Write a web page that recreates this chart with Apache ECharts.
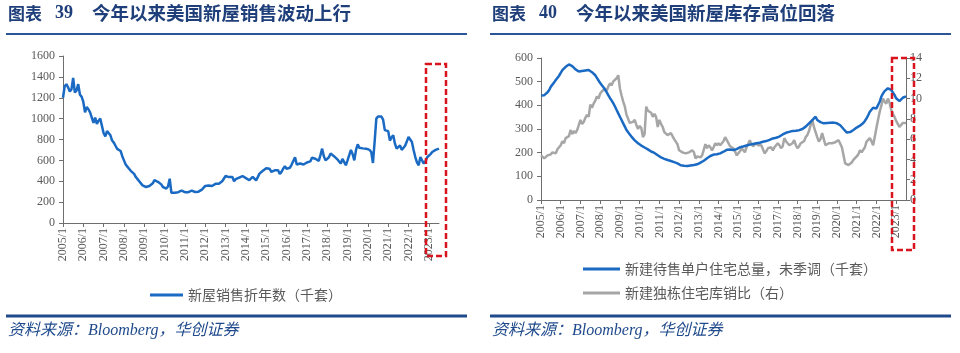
<!DOCTYPE html>
<html>
<head>
<meta charset="utf-8">
<script src="https://cdn.jsdelivr.net/npm/echarts@6/dist/echarts.min.js"></script>
<style>
  html, body { margin: 0; padding: 0; background: #fff; }
  #chart { width: 960px; height: 353px; }
</style>
</head>
<body>
<div id="chart"></div>
<script>
// 月度类目 2005/1 - 2023/7
const months = []
for (let y = 2005; y <= 2023; y++) {
  for (let m = 1; m <= 12; m++) {
    if (y === 2023 && m > 7) break
    months.push(y + '/' + m)
  }
}

// 图表39：新屋销售折年数（千套）
const newHomeSales = [
  1200, 1310, 1330, 1300, 1260, 1280, 1390, 1250, 1270, 1330, 1230, 1210,
  1160, 1060, 1110, 1090, 1060, 1050, 960, 1010, 950, 980, 1000, 990,
  860, 830, 880, 890, 840, 790, 770, 740, 710, 720, 690, 640,
  600, 560, 540, 520, 500, 490, 470, 440, 420, 400, 380, 360,
  350, 345, 350, 355, 365, 380, 410, 405, 395, 390, 370, 345,
  335, 330, 350, 425, 290, 285, 290, 300, 295, 300, 310, 320,
  295, 280, 295, 305, 310, 300, 297, 305, 300, 310, 320, 330,
  355, 350, 360, 360, 355, 365, 375, 380, 375, 370, 400, 410,
  450, 445, 440, 445, 440, 400, 420, 425, 435, 445, 450, 448,
  430, 420, 410, 425, 441, 430, 409, 440, 473, 480, 500, 510,
  525, 540, 520, 490, 500, 505, 500, 505, 470, 490, 520, 545,
  520, 525, 530, 560, 570, 630, 560, 575, 570, 563, 560, 565,
  580, 575, 590, 625, 610, 615, 605, 595, 650, 712, 640, 600,
  595, 630, 665, 650, 640, 632, 610, 590, 570, 615, 600, 553,
  600, 650, 700, 660, 600, 700, 754, 720, 710, 715, 712, 712,
  712, 700, 680, 575, 780, 1000, 1020, 1015, 1020, 990, 890, 880,
  880, 790, 820, 840, 760, 712, 730, 744, 700, 696, 740, 780,
  824, 800, 776, 700, 632, 580, 553, 632, 600, 569, 590, 630,
  649, 660, 680, 696, 700, 705, 712
]

// 图表40：新建待售单户住宅总量，未季调（千套）
const homesForSale = [
  441, 440, 443, 447, 455, 465, 479, 488, 497, 507, 515, 525,
  537, 549, 556, 563, 570, 573, 573, 566, 559, 552, 545, 543,
  544, 545, 546, 547, 548, 549, 546, 540, 534, 527, 516, 505,
  494, 485, 476, 466, 455, 442, 430, 420, 408, 395, 380, 366,
  352, 338, 324, 310, 296, 286, 277, 268, 260, 252, 246, 240,
  234, 230, 226, 222, 218, 214, 210, 205, 201, 199, 194, 189,
  185, 180, 177, 174, 171, 169, 167, 165, 163, 160, 158, 155,
  150, 147, 146, 145, 144, 144, 145, 146, 147, 148, 149, 151,
  155, 158, 162, 166, 171, 176, 181, 186, 190, 192, 193, 193,
  194, 197, 200, 204, 208, 212, 215, 213, 211, 211, 212, 215,
  220, 223, 225, 226, 228, 230, 232, 234, 236, 237, 238, 240,
  241, 242, 244, 246, 248, 249, 251, 254, 257, 260, 262, 263,
  265, 268, 272, 277, 281, 284, 286, 288, 290, 292, 292, 293,
  294, 295, 296, 300, 305, 310, 317, 324, 331, 338, 345, 352,
  338, 333, 329, 326, 324, 324, 325, 324, 326, 328, 327, 326,
  324, 322, 316, 310, 300, 292, 285, 284, 287, 290, 296, 302,
  306, 310, 314, 317, 325, 334, 345, 358, 373, 381, 390, 390,
  387, 395, 415, 437, 450, 460, 468, 472, 472, 465, 458, 444,
  430, 425, 418, 425, 432, 435, 438
]

// 图表40：新建独栋住宅库销比（右轴）
const monthsSupply = [
  4.4, 4.3, 4.1, 4.2, 4.4, 4.3, 4.5, 4.7, 4.8, 4.6, 5.0, 5.2,
  5.4, 5.8, 5.6, 6.1, 6.0, 6.3, 6.9, 6.5, 6.8, 6.6, 6.9, 6.8,
  7.9, 7.5, 7.7, 8.1, 8.4, 8.2, 9.4, 9.1, 9.5, 9.8, 10.2, 10.0,
  10.5, 10.7, 10.6, 11.0, 10.8, 11.2, 11.5, 11.3, 11.7, 11.6, 12.0, 12.3,
  11.0, 10.3, 9.7, 9.2, 8.4, 8.0, 7.6, 7.5, 7.7, 7.9, 7.4, 7.0,
  7.3, 7.1, 6.2, 6.5, 9.2, 8.8, 8.9, 8.6, 8.2, 8.5, 8.2, 7.2,
  7.9, 7.5, 7.2, 6.7, 6.6, 6.4, 6.5, 6.6, 6.3, 6.0, 5.75, 5.5,
  4.9, 4.8, 4.7, 4.6, 4.6, 4.7, 4.7, 4.8, 4.9, 4.7, 4.1, 4.3,
  4.3, 4.2, 4.4, 4.5, 5.5, 5.1, 5.4, 5.2, 4.9, 5.2, 5.6, 5.4,
  5.6, 5.4, 5.5, 5.8, 6.2, 5.9, 5.6, 5.3, 5.2, 5.1, 4.8, 4.4,
  4.5, 4.8, 5.1, 4.9, 4.7, 5.2, 5.5, 5.9, 5.5, 5.3, 5.4, 5.6,
  5.4, 5.5, 5.4, 5.0, 4.6, 4.8, 5.1, 5.0, 5.2, 4.9, 5.2, 5.4,
  5.6, 5.4, 5.1, 5.3, 6.1, 5.8, 5.6, 5.4, 5.3, 5.6, 5.9, 5.4,
  5.1, 5.3, 5.6, 5.5, 5.8, 6.2, 6.4, 6.8, 7.4, 7.9, 7.2, 6.7,
  6.2, 5.75, 6.0, 6.6, 6.0, 5.4, 5.5, 5.6, 5.5, 5.6, 5.7, 5.7,
  5.8, 5.9, 5.9, 5.2, 4.4, 3.6, 3.5, 3.45, 3.5, 3.7, 3.95, 4.1,
  4.3, 4.5, 4.9, 4.7, 4.8, 5.2, 5.75, 5.9, 6.1, 5.8, 5.4, 6.2,
  7.1, 7.9, 8.7, 9.3, 10.0, 9.7, 9.5, 10.0, 9.6, 8.9, 8.5, 8.2,
  7.8, 7.5, 7.2, 7.4, 7.6, 7.5, 7.6
]

const navy = '#1f3f7a'
const axisColor = '#6e6e6e'
const labelColor = '#595959'
const serif = '"Liberation Serif", "Times New Roman", serif'
const cjk = '"Noto Sans CJK SC", sans-serif'

const yearOnly = (i) => i % 12 === 0

function catAxis(gridIndex) {
  return {
    type: 'category',
    gridIndex,
    data: months,
    boundaryGap: false,
    axisLine: { lineStyle: { color: axisColor, width: 1 } },
    axisTick: { interval: yearOnly, length: 4, lineStyle: { color: axisColor } },
    axisLabel: {
      interval: yearOnly,
      rotate: 90,
      margin: 5,
      color: labelColor,
      fontFamily: serif,
      fontSize: 12
    },
    splitLine: { show: false }
  }
}

function valAxis(gridIndex, min, max, interval, position, margin) {
  return {
    type: 'value',
    gridIndex,
    min, max, interval,
    position,
    axisLine: { show: true, lineStyle: { color: axisColor, width: 1 } },
    axisTick: { show: true, length: 4, lineStyle: { color: axisColor } },
    axisLabel: {
      color: labelColor, fontFamily: serif, fontSize: 12, margin,
      formatter: (v) => String(v)
    },
    splitLine: { show: false }
  }
}

function titleGroup(x, num, text) {
  return [
    { type: 'text', left: x, top: 5, style: { text: '图表', fill: navy, font: 'bold 17px ' + cjk } },
    { type: 'text', left: x + 47, top: 4, style: { text: num, fill: navy, font: 'bold 18px ' + serif } },
    { type: 'text', left: x + 84, top: 4, style: { text: text, fill: navy, font: 'bold 18.5px ' + cjk } },
    { type: 'rect', shape: { x: x - 2, y: 33, width: 461, height: 2 }, style: { fill: '#2b5597' } },
    { type: 'rect', shape: { x: x - 2, y: 314.5, width: 461, height: 3 }, style: { fill: '#1f4a8c' } },
    { type: 'text', left: x, top: 323, style: { text: '资料来源：Bloomberg，华创证券', fill: '#1f4a8c', font: 'italic 16px ' + serif + ', ' + cjk } }
  ]
}

function redBox(x, y, w, h) {
  return {
    type: 'rect',
    z: 100,
    shape: { x, y, width: w, height: h },
    style: { fill: 'none', stroke: '#d9141e', lineWidth: 2.5, lineDash: [6, 3] }
  }
}

const chart = echarts.init(document.getElementById('chart'))

chart.setOption({
  animation: false,
  grid: [
    { left: 63, right: 521, top: 56, bottom: 130 },
    { left: 541, right: 54, top: 58, bottom: 153 }
  ],
  xAxis: [catAxis(0), catAxis(1)],
  yAxis: [
    valAxis(0, 0, 1600, 200, 'left', 8),
    valAxis(1, 0, 600, 100, 'left', 8),
    valAxis(1, 0, 14, 2, 'right', 4)
  ],
  legend: [
    {
      data: ['新屋销售折年数（千套）'],
      left: 145, top: 283,
      icon: 'rect', itemWidth: 33, itemHeight: 3, itemGap: 10,
      textStyle: { color: labelColor, fontSize: 14, fontFamily: cjk }
    },
    {
      data: ['新建待售单户住宅总量，未季调（千套）', '新建独栋住宅库销比（右）'],
      orient: 'vertical',
      left: 578, top: 257,
      icon: 'rect', itemWidth: 37, itemHeight: 3, itemGap: 10,
      textStyle: { color: labelColor, fontSize: 14, fontFamily: cjk }
    }
  ],
  series: [
    {
      name: '新屋销售折年数（千套）',
      type: 'line',
      xAxisIndex: 0, yAxisIndex: 0,
      data: newHomeSales,
      showSymbol: false,
      lineStyle: { color: '#1a6ac4', width: 2.5 },
      itemStyle: { color: '#1a6ac4' }
    },
    {
      name: '新建独栋住宅库销比（右）',
      type: 'line',
      xAxisIndex: 1, yAxisIndex: 2,
      data: monthsSupply,
      showSymbol: false,
      lineStyle: { color: '#a6a6a6', width: 2.5 },
      itemStyle: { color: '#a6a6a6' }
    },
    {
      name: '新建待售单户住宅总量，未季调（千套）',
      type: 'line',
      xAxisIndex: 1, yAxisIndex: 1,
      data: homesForSale,
      showSymbol: false,
      lineStyle: { color: '#1a6ac4', width: 2.5 },
      itemStyle: { color: '#1a6ac4' }
    }
  ],
  graphic: [
    ...titleGroup(8, '39', '今年以来美国新屋销售波动上行'),
    ...titleGroup(492, '40', '今年以来美国新屋库存高位回落'),
    redBox(426, 64, 20, 192),
    redBox(892, 58, 22, 192)
  ]
})
</script>
</body>
</html>
